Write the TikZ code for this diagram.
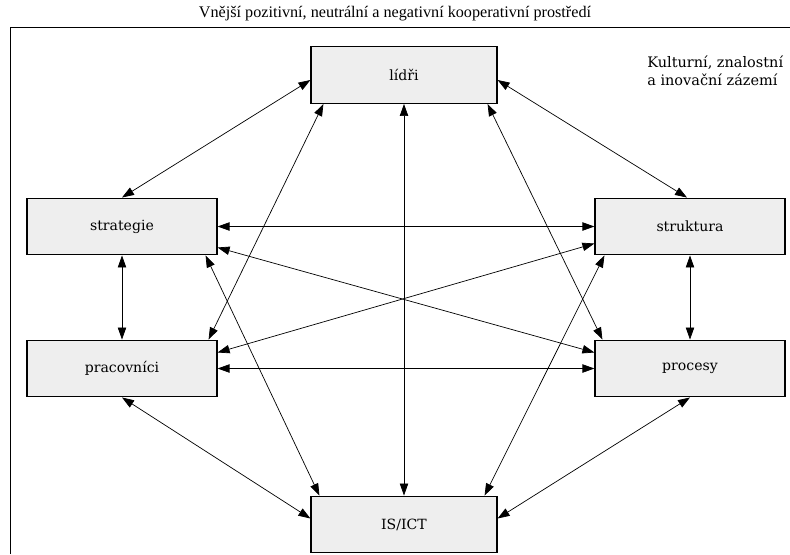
\documentclass[tikz,border=0pt]{standalone}
\usepackage{fontspec}
\setmainfont{DejaVu Serif}
\newfontfamily\titlefont{Liberation Serif}
\usetikzlibrary{positioning,arrows.meta,calc}
\definecolor{boxfill}{HTML}{EEEEEE}
\tikzset{
  factor/.style={draw, line width=0.8pt, fill=boxfill, minimum width=4.75cm, minimum height=1.42cm, inner sep=0pt, font=\fontsize{10}{12}\selectfont},
  link/.style={{Triangle[length=3mm,width=2.1mm]}-{Triangle[length=3mm,width=2.1mm]}, line width=0.5pt},
  frame/.style={line width=0.6pt}
}

\begin{document}
\begin{tikzpicture}[x=0.025cm,y=-0.025cm]
  \useasboundingbox (0,0) rectangle (790,554);
  \draw[frame] (10,554) -- (10,27) -- (790,27);

  \node[font=\titlefont\fontsize{11.5}{13}\selectfont] (title) at (395,14) {Vnější pozitivní, neutrální a negativní kooperativní prostředí};
  \node[anchor=north west, align=left, inner sep=0pt, font=\fontsize{10.3}{12.6}\selectfont] (note) at (647,56) {Kulturní, znalostní\\a inovační zázemí};

  \node[factor, minimum width=4.65cm] (lidri) at (404,75) {lídři};
  \node[factor] (strat) at (122,226.5) {strategie};
  \node[factor] (strukt) at (690,226.5) {struktura};
  \node[factor] (prac) at (122,368.5) {pracovníci};
  \node[factor] (proc) at (690,368.5) {procesy};
  \node[factor, minimum width=4.65cm] (ict) at (404,524.5) {IS/ICT};

  % vazby od lidru
  \draw[link] ($(lidri.west)+(0,5)$) -- (strat.north);
  \draw[link] ($(lidri.east)+(0,5)$) -- ($(strukt.north)+(-3,0)$);
  \draw[link] (lidri.south) -- (ict.north);
  \draw[link] ($(lidri.south west)+(13,0)$) -- ($(prac.north east)+(-9,0)$);
  \draw[link] ($(lidri.south east)+(-10,0)$) -- ($(proc.north west)+(8,0)$);

  % vazby od strategie
  \draw[link] (strat.east) -- (strukt.west);
  \draw[link] ($(strat.east)+(0,21)$) -- ($(proc.west)+(0,-16)$);
  \draw[link] ($(strat.south east)+(-12,0)$) -- ($(ict.north west)+(9,0)$);
  \draw[link] (strat.south) -- (prac.north);

  % vazby od struktury
  \draw[link] (strukt.south) -- (proc.north);
  \draw[link] ($(strukt.west)+(0,17)$) -- ($(prac.east)+(0,-16)$);
  \draw[link] ($(strukt.south west)+(10,0)$) -- ($(ict.north east)+(-13,0)$);

  % spodni rada
  \draw[link] (prac.east) -- (proc.west);
  \draw[link] (prac.south) -- ($(ict.west)+(0,-6)$);
  \draw[link] (proc.south) -- ($(ict.east)+(0,-6)$);
\end{tikzpicture}
\end{document}
